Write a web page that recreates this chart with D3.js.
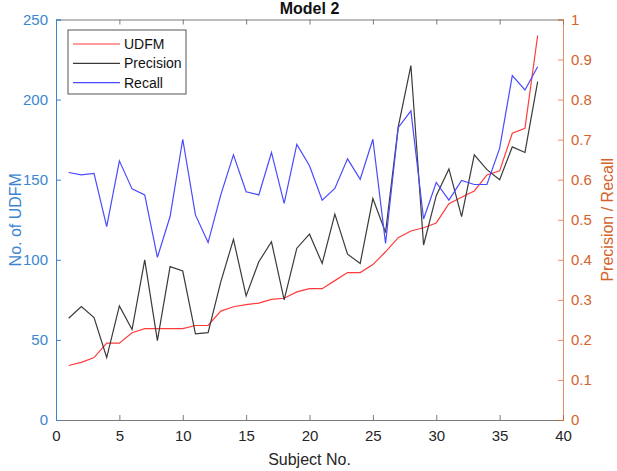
<!DOCTYPE html>
<html>
<head>
<meta charset="utf-8">
<script src="https://cdn.jsdelivr.net/npm/d3@7"></script>
<style>
  body { margin: 0; background: #fff; }
  text { font-family: "Liberation Sans", Arial, sans-serif; }
</style>
</head>
<body>
<div id="container"></div>
<script>
let w = 617;
let h = 471;

// subject numbers 1..38
let subjects = [1,2,3,4,5,6,7,8,9,10,11,12,13,14,15,16,17,18,19,20,
                21,22,23,24,25,26,27,28,29,30,31,32,33,34,35,36,37,38];

// left axis: number of UDFM
let udfm = [34,36,39,48,48,54.5,57,57,57,57,59,59,68,70.7,72,73,75.3,76,80,82,
            82,87,92,92,97,105,113.8,118,120,123,135,139,143,153,155.5,179,182,240];

// right axis
let precision = [0.254,0.283,0.256,0.156,0.285,0.226,0.400,0.198,0.383,0.372,
                 0.215,0.218,0.345,0.451,0.310,0.395,0.445,0.300,0.429,0.464,
                 0.391,0.514,0.414,0.391,0.553,0.468,0.732,0.885,0.437,0.560,
                 0.627,0.508,0.662,0.625,0.600,0.682,0.668,0.845];

let recall = [0.618,0.612,0.616,0.483,0.647,0.577,0.562,0.406,0.508,0.701,
              0.512,0.443,0.562,0.662,0.570,0.562,0.668,0.541,0.688,0.635,
              0.549,0.578,0.652,0.601,0.701,0.441,0.730,0.772,0.502,0.593,
              0.549,0.598,0.588,0.588,0.678,0.860,0.824,0.882];

let xTicks = [0,5,10,15,20,25,30,35,40];
let leftTicks = [0,50,100,150,200,250];
let rightTicks = [0,0.1,0.2,0.3,0.4,0.5,0.6,0.7,0.8,0.9,1];

let legendNames = ["UDFM","Precision","Recall"];
let legendColors = ["#ff3b3b","#3a3a3a","#4a4aff"];

let plotLeft = 56, plotRight = 563, plotTop = 19.5, plotBottom = 420;
let leftColor = "#3d85cf";
let rightColor = "#d4642c";
let axisGray = "#7a7a7a";

let viz = d3.select("#container")
  .append("svg")
    .attr("width", w)
    .attr("height", h)
    .style("background-color", "white")
;

let xScale = d3.scaleLinear().domain([0,40]).range([plotLeft, plotRight]);
let yLeft = d3.scaleLinear().domain([0,250]).range([plotBottom, plotTop]);
let yRight = d3.scaleLinear().domain([0,1]).range([plotBottom, plotTop]);

// bottom and top axes (ticks point inward)
let xAxisBottom = d3.axisBottom(xScale).tickValues(xTicks).tickSize(-5).tickPadding(10)
  .tickFormat(d3.format("d"));
let gx = viz.append("g").attr("transform", "translate(0," + plotBottom + ")").call(xAxisBottom);
gx.selectAll("path, line").attr("stroke", axisGray);
gx.selectAll("text").attr("fill", "#262626").style("font-size", "15px");

let xAxisTop = d3.axisTop(xScale).tickValues(xTicks).tickSize(-5).tickFormat("");
let gxt = viz.append("g").attr("transform", "translate(0," + plotTop + ")").call(xAxisTop);
gxt.selectAll("path, line").attr("stroke", axisGray);

// left axis
let yAxisLeft = d3.axisLeft(yLeft).tickValues(leftTicks).tickSize(-5).tickPadding(8);
let gl = viz.append("g").attr("transform", "translate(" + plotLeft + ",0)").call(yAxisLeft);
gl.selectAll("path, line").attr("stroke", leftColor);
gl.selectAll("text").attr("fill", leftColor).style("font-size", "15px");

// right axis
let yAxisRight = d3.axisRight(yRight).tickValues(rightTicks).tickSize(-5).tickPadding(8)
  .tickFormat(function(d){ return d3.format("~g")(d); });
let gr = viz.append("g").attr("transform", "translate(" + plotRight + ",0)").call(yAxisRight);
gr.selectAll("path, line").attr("stroke", rightColor).attr("stroke-opacity", 0.7);
gr.selectAll("text").attr("fill", rightColor).style("font-size", "15px");

// lines
let lineLeft = d3.line()
  .x(function(d, i){ return xScale(subjects[i]); })
  .y(function(d){ return yLeft(d); });
let lineRight = d3.line()
  .x(function(d, i){ return xScale(subjects[i]); })
  .y(function(d){ return yRight(d); });

viz.append("path").datum(udfm).attr("d", lineLeft)
  .attr("fill", "none").attr("stroke", legendColors[0]).attr("stroke-width", 1.2);
viz.append("path").datum(precision).attr("d", lineRight)
  .attr("fill", "none").attr("stroke", legendColors[1]).attr("stroke-width", 1.2);
viz.append("path").datum(recall).attr("d", lineRight)
  .attr("fill", "none").attr("stroke", legendColors[2]).attr("stroke-width", 1.2);

// title and labels
viz.append("text").attr("x", (plotLeft + plotRight) / 2).attr("y", 14)
  .attr("text-anchor", "middle").style("font-size", "16px").style("font-weight", "bold")
  .attr("fill", "#111").text("Model 2");

viz.append("text").attr("x", (plotLeft + plotRight) / 2).attr("y", 465)
  .attr("text-anchor", "middle").style("font-size", "16px")
  .attr("fill", "#262626").text("Subject No.");

viz.append("text")
  .attr("transform", "translate(21," + ((plotTop + plotBottom) / 2) + ") rotate(-90)")
  .attr("text-anchor", "middle").style("font-size", "16px")
  .attr("fill", leftColor).text("No. of UDFM");

viz.append("text")
  .attr("transform", "translate(613," + ((plotTop + plotBottom) / 2) + ") rotate(-90)")
  .attr("text-anchor", "middle").style("font-size", "16px")
  .attr("fill", rightColor).text("Precision / Recall");

// legend
let legend = viz.append("g").attr("transform", "translate(68,30)");
legend.append("rect").attr("width", 118).attr("height", 64)
  .attr("fill", "white").attr("stroke", "#555").attr("stroke-width", 1);
let rows = legend.selectAll(".row").data(legendNames).enter()
  .append("g").classed("row", true)
  .attr("transform", function(d, i){ return "translate(0," + (14 + i * 19.3) + ")"; });
rows.append("line").attr("x1", 5).attr("x2", 52).attr("y1", 0).attr("y2", 0)
  .attr("stroke", function(d, i){ return legendColors[i]; }).attr("stroke-width", 1.2);
rows.append("text").attr("x", 56).attr("y", 5)
  .style("font-size", "14px").attr("fill", "#111").text(function(d){ return d; });
</script>
</body>
</html>
